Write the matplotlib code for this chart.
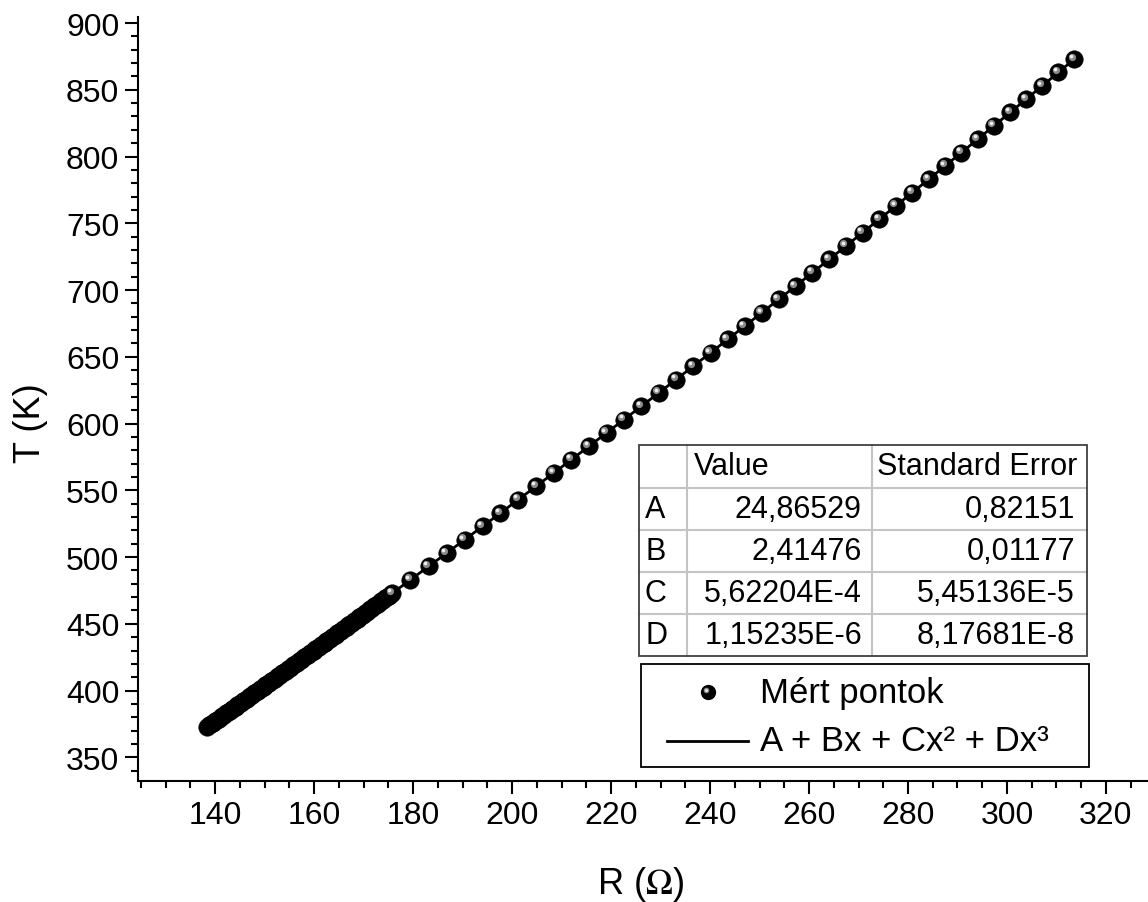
import numpy as np
import matplotlib.pyplot as plt
from matplotlib.ticker import MultipleLocator
from matplotlib.transforms import offset_copy
from matplotlib.patches import Rectangle
from matplotlib.lines import Line2D

plt.rcParams['font.family'] = ['Liberation Sans', 'DejaVu Sans']
plt.rcParams['mathtext.fontset'] = 'stix'

# measured points, dense part (1 K steps)
T_dense = [373, 374, 375, 376, 377, 378, 379, 380, 381, 382,
           383, 384, 385, 386, 387, 388, 389, 390, 391, 392,
           393, 394, 395, 396, 397, 398, 399, 400, 401, 402,
           403, 404, 405, 406, 407, 408, 409, 410, 411, 412,
           413, 414, 415, 416, 417, 418, 419, 420, 421, 422,
           423, 424, 425, 426, 427, 428, 429, 430, 431, 432,
           433, 434, 435, 436, 437, 438, 439, 440, 441, 442,
           443, 444, 445, 446, 447, 448, 449, 450, 451, 452,
           453, 454, 455, 456, 457, 458, 459, 460, 461, 462,
           463, 464, 465, 466, 467, 468, 469, 470, 471, 472,
           473]
R_dense = [138.44, 138.82, 139.20, 139.58, 139.96, 140.34, 140.71, 141.09, 141.47, 141.85,
           142.23, 142.60, 142.98, 143.36, 143.74, 144.12, 144.49, 144.87, 145.25, 145.63,
           146.00, 146.38, 146.76, 147.13, 147.51, 147.88, 148.26, 148.64, 149.01, 149.39,
           149.77, 150.14, 150.52, 150.89, 151.27, 151.64, 152.02, 152.39, 152.77, 153.14,
           153.52, 153.89, 154.27, 154.64, 155.02, 155.39, 155.77, 156.14, 156.51, 156.89,
           157.26, 157.63, 158.01, 158.38, 158.75, 159.13, 159.50, 159.87, 160.25, 160.62,
           160.99, 161.36, 161.73, 162.11, 162.48, 162.85, 163.22, 163.59, 163.97, 164.34,
           164.71, 165.08, 165.45, 165.82, 166.19, 166.56, 166.93, 167.30, 167.67, 168.04,
           168.41, 168.78, 169.15, 169.52, 169.89, 170.26, 170.63, 171.00, 171.37, 171.74,
           172.11, 172.48, 172.85, 173.21, 173.58, 173.95, 174.32, 174.69, 175.06, 175.43,
           175.79]

# measured points, sparse part (10 K steps)
T_sparse = [483, 493, 503, 513, 523, 533, 543, 553, 563, 573,
            583, 593, 603, 613, 623, 633, 643, 653, 663, 673,
            683, 693, 703, 713, 723, 733, 743, 753, 763, 773,
            783, 793, 803, 813, 823, 833, 843, 853, 863, 873]
R_sparse = [179.46, 183.12, 186.76, 190.41, 194.03, 197.64, 201.25, 204.83, 208.41, 211.98,
            215.53, 219.08, 222.61, 226.12, 229.64, 233.13, 236.61, 240.10, 243.55, 247.00,
            250.44, 253.86, 257.28, 260.69, 264.07, 267.46, 270.83, 274.18, 277.53, 280.87,
            284.19, 287.50, 290.81, 294.09, 297.37, 300.65, 303.90, 307.14, 310.39, 313.60]

# fit parameters
par_names = ['A', 'B', 'C', 'D']
par_values = ['24,86529', '2,41476', '5,62204E-4', '1,15235E-6']
par_errors = ['0,82151', '0,01177', '5,45136E-5', '8,17681E-8']
A, B, C, D = 24.86529, 2.41476, 5.62204e-4, 1.15235e-6

R_all = R_dense + R_sparse
T_all = T_dense + T_sparse

W, H = 1148, 903
fig = plt.figure(figsize=(W / 100, H / 100), dpi=100)
ax = fig.add_axes([138 / W, 1 - 782 / H, (1147 - 138) / W, 764 / H])


def fx(x):
    return x / W


def fy(y):
    return 1 - y / H


r_fit = np.linspace(min(R_all), max(R_all), 400)
t_fit = A + B * r_fit + C * r_fit ** 2 + D * r_fit ** 3
ax.plot(r_fit, t_fit, color='black', lw=2.0, zorder=2)

hl1 = offset_copy(ax.transData, fig=fig, x=-1.8, y=1.8, units='points')
hl2 = offset_copy(ax.transData, fig=fig, x=-2.3, y=2.3, units='points')
for i, (r, t) in enumerate(zip(R_all, T_all)):
    z = 3 + i * 0.01
    ax.plot(r, t, 'o', ms=12.5, mfc='black', mec='black', mew=0.5, zorder=z)
    ax.plot(r, t, 'o', ms=5.2, color='#8a8a8a', mew=0, transform=hl1, zorder=z + 0.003)
    ax.plot(r, t, 'o', ms=2.6, color='#eeeeee', mew=0, transform=hl2, zorder=z + 0.006)

ax.set_xlim(124.4, 328.3)
ax.set_ylim(332.3, 904.5)
ax.xaxis.set_major_locator(MultipleLocator(20))
ax.xaxis.set_minor_locator(MultipleLocator(5))
ax.yaxis.set_major_locator(MultipleLocator(50))
ax.yaxis.set_minor_locator(MultipleLocator(10))
ax.spines['top'].set_visible(False)
ax.spines['right'].set_visible(False)
for s in ['left', 'bottom']:
    ax.spines[s].set_linewidth(1.5)
ax.tick_params(which='major', direction='out', length=9.5, width=1.5, labelsize=23, pad=4)
ax.tick_params(which='minor', direction='out', length=5, width=1.5)

ax.set_xlabel(r'R ($\Omega$)', fontsize=26)
ax.set_ylabel('T (K)', fontsize=26)
ax.xaxis.set_label_coords(0.4975, -0.108)
ax.yaxis.set_label_coords(-0.089, 0.47)

# parameter table
x_cols = [639, 687, 872, 1087]
y_rows = [446, 489, 531, 573, 615, 657]
for x in x_cols[1:-1]:
    fig.add_artist(Line2D([fx(x), fx(x)], [fy(y_rows[0]), fy(y_rows[-1])],
                          color='#c4c4c4', lw=1.5, zorder=10))
for y in y_rows[1:-1]:
    fig.add_artist(Line2D([fx(x_cols[0]), fx(x_cols[-1])], [fy(y), fy(y)],
                          color='#c4c4c4', lw=1.5, zorder=10))
fig.add_artist(Rectangle((fx(x_cols[0]), fy(y_rows[-1])), fx(x_cols[-1] - x_cols[0]),
                         (y_rows[-1] - y_rows[0]) / H, fill=False, ec='#404040',
                         lw=1.3, transform=fig.transFigure, zorder=11))
tsize = 22
yc = (y_rows[0] + y_rows[1]) / 2
fig.text(fx(694), fy(yc), 'Value', fontsize=tsize, va='center', ha='left')
fig.text(fx(877), fy(yc), 'Standard Error', fontsize=tsize, va='center', ha='left')
for k in range(4):
    yc = (y_rows[k + 1] + y_rows[k + 2]) / 2
    fig.text(fx(645), fy(yc), par_names[k], fontsize=tsize, va='center', ha='left')
    fig.text(fx(862), fy(yc), par_values[k], fontsize=tsize, va='center', ha='right')
    fig.text(fx(1075), fy(yc), par_errors[k], fontsize=tsize, va='center', ha='right')

# legend box
fig.add_artist(Rectangle((fx(641), fy(768)), fx(1089 - 641), (768 - 665) / H, fill=False,
                         ec='black', lw=1.3, transform=fig.transFigure, zorder=11))
lg1 = offset_copy(fig.transFigure, fig=fig, x=-1.3, y=1.3, units='points')
lg2 = offset_copy(fig.transFigure, fig=fig, x=-1.7, y=1.7, units='points')
fig.add_artist(Line2D([fx(708)], [fy(693)], marker='o', ms=10, mfc='black', mec='black',
                      transform=fig.transFigure, zorder=12))
fig.add_artist(Line2D([fx(708)], [fy(693)], marker='o', ms=4, color='#8a8a8a', mew=0,
                      transform=lg1, zorder=13))
fig.add_artist(Line2D([fx(708)], [fy(693)], marker='o', ms=2, color='#eeeeee', mew=0,
                      transform=lg2, zorder=14))
fig.add_artist(Line2D([fx(667), fx(748)], [fy(742), fy(742)], color='black', lw=2.0,
                      transform=fig.transFigure, zorder=12))
fig.text(fx(760), fy(693), 'Mért pontok', fontsize=25, va='center', ha='left')
fig.text(fx(760), fy(742), 'A + Bx + Cx² + Dx³', fontsize=25, va='center', ha='left')

fig.savefig('out.png', dpi=100)
